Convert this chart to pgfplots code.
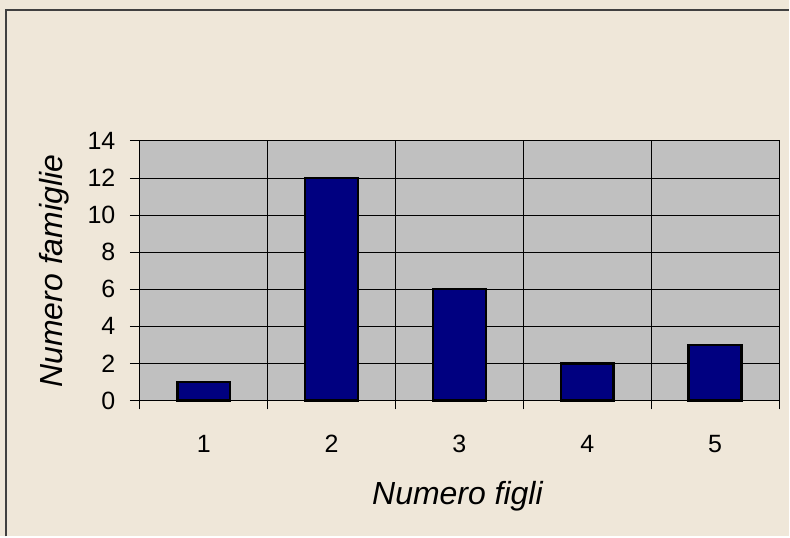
\documentclass[border=0pt]{standalone}
\usepackage{pgfplots}
\pgfplotsset{compat=1.18}
\usepackage{fontspec}
\setmainfont{Liberation Sans}
\definecolor{bgc}{HTML}{EFE7D9}
\definecolor{plotgray}{HTML}{C0C0C0}
\definecolor{barblue}{HTML}{000080}
\definecolor{frameg}{HTML}{404040}
\newcommand{\tickfont}{\fontsize{25}{30}\selectfont}
\begin{document}
\begin{tikzpicture}[x=1pt,y=1pt]
\fill[bgc] (0,0) rectangle (790,537);
\draw[line width=2pt, frameg] (6,0) -- (6,527) -- (790,527);
\begin{axis}[
  at={(140pt,136pt)}, anchor=origin,
  scale only axis, width=640pt, height=260pt,
  xmin=0.5, xmax=5.5, ymin=0, ymax=14,
  ytick={0,2,...,14},
  yticklabels={0,2,4,6,8,10,12,14},
  xtick={1,2,3,4,5},
  xticklabels={1,2,3,4,5},
  minor xtick={0.5,1.5,...,5.5},
  major x tick style={draw=none},
  xminorgrids, ymajorgrids,
  grid style={black, line width=0.8pt},
  axis line style={black, line width=0.8pt},
  tick style={black, line width=0.8pt},
  tick align=outside,
  xtick pos=bottom, ytick pos=left,
  major tick length=10pt, minor tick length=9pt,
  axis background/.style={fill=plotgray},
  yticklabel style={font=\tickfont, anchor=east, xshift=-11pt},
  xticklabel style={font=\tickfont, anchor=north, yshift=-21pt},
  ybar, bar width=53pt,
  clip=false,
]
\addplot[fill=barblue, draw=black, line width=2.5pt] coordinates {(1,1) (2,12) (3,6) (4,2) (5,3)};
\end{axis}
\node[anchor=base, font=\fontsize{32}{38}\selectfont\itshape] at (458,32) {Numero figli};
\node[anchor=base, rotate=90, font=\fontsize{32}{38}\selectfont\itshape] at (63,265.5) {Numero famiglie};
\end{tikzpicture}
\end{document}
